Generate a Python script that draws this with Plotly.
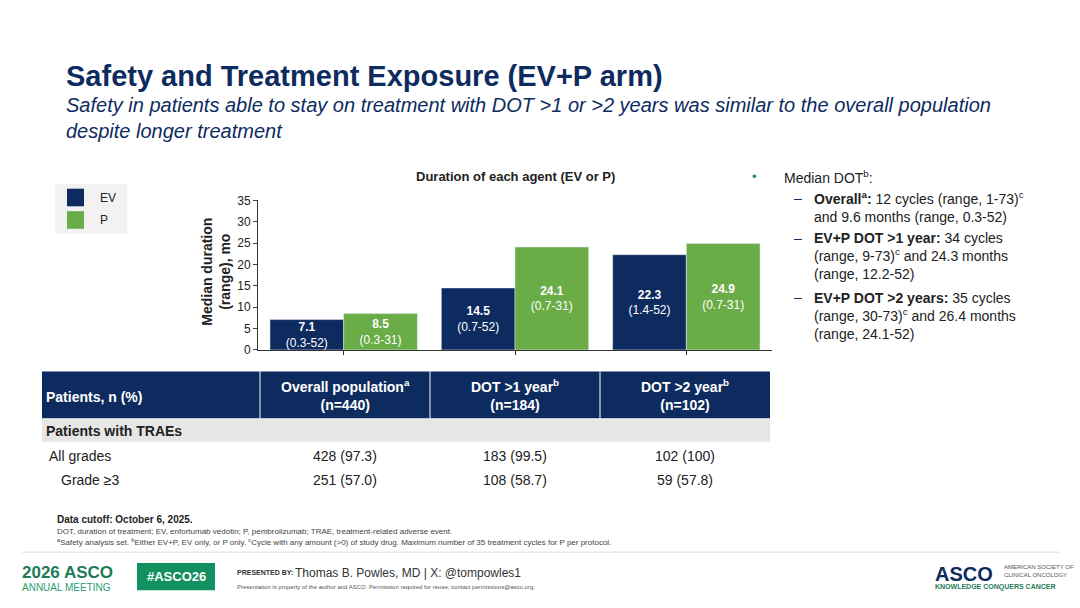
import plotly.graph_objects as go

# chart data
groups = ["Overall", "DOT >1 year", "DOT >2 years"]
ev_vals = [7.1, 14.5, 22.3]
ev_range = ["0.3-52", "0.7-52", "1.4-52"]
p_vals = [8.5, 24.1, 24.9]
p_range = ["0.3-31", "0.7-31", "0.7-31"]

# table data
col_heads = ["Patients, n (%)", "Overall population<sup>a</sup><br>(n=440)",
             "DOT >1 year<sup>b</sup><br>(n=184)", "DOT >2 year<sup>b</sup><br>(n=102)"]
row_labels = ["All grades", "Grade ≥3"]
row_vals = [["428 (97.3)", "183 (99.5)", "102 (100)"],
            ["251 (57.0)", "108 (58.7)", "59 (57.8)"]]

NAVY = "#0d2b5e"
GREEN = "#6aac46"
W, H = 1080, 608
FONT = "Liberation Sans, Arial"

def px(x):
    return x / W

def py(y):
    return 1 - y / H

fig = go.Figure()
fig.add_trace(go.Bar(x=groups, y=ev_vals, marker_color=NAVY, name="EV",
                     text=[f"<b>{v}</b><br>({r})" for v, r in zip(ev_vals, ev_range)],
                     textposition="inside", insidetextanchor="middle",
                     textfont=dict(color="white", size=12), showlegend=False))
fig.add_trace(go.Bar(x=groups, y=p_vals, marker_color=GREEN, name="P",
                     text=[f"<b>{v}</b><br>({r})" for v, r in zip(p_vals, p_range)],
                     textposition="inside", insidetextanchor="middle",
                     textfont=dict(color="white", size=12), showlegend=False))

fig.update_layout(
    width=W, height=H, margin=dict(l=0, r=0, t=0, b=0),
    paper_bgcolor="white", plot_bgcolor="white",
    font=dict(family=FONT, color="#222"),
    barmode="group", bargap=0.14, bargroupgap=0,
    uniformtext=dict(mode="show", minsize=12),
    xaxis=dict(domain=[px(258), px(772)], showticklabels=False, showline=True,
               linecolor="#333", ticks="outside", tickcolor="#333", ticklen=4),
    yaxis=dict(domain=[py(351), py(198)], range=[0, 35], dtick=5, showgrid=False,
               showline=True, linecolor="#333", ticks="outside", ticklen=4,
               tickfont=dict(size=12)),
)

shapes = []
ann = []

def text(x, y, s, size=13, color="#222", xanchor="left", bold=False, italic=False, yanchor="middle"):
    if bold:
        s = f"<b>{s}</b>"
    if italic:
        s = f"<i>{s}</i>"
    ann.append(dict(x=px(x), y=py(y + 3), xref="paper", yref="paper", text=s, showarrow=False,
                    xanchor=xanchor, yanchor=yanchor, align=xanchor if xanchor != "center" else "center",
                    font=dict(size=size, color=color, family=FONT)))

def rect(x0, x1, y0, y1, color):
    shapes.append(dict(type="rect", xref="paper", yref="paper", x0=px(x0), x1=px(x1),
                       y0=py(y1 + 3), y1=py(y0 + 3), fillcolor=color, line_width=0))

# title
text(64, 68, "Safety and Treatment Exposure (EV+P arm)", size=29, color=NAVY, bold=True)
text(64, 111, "Safety in patients able to stay on treatment with DOT >1 or >2 years was similar to the overall population<br>despite longer treatment",
     size=20, color=NAVY, italic=True)

# chart title and y title
text(515, 171, "Duration of each agent (EV or P)", size=13, xanchor="center", bold=True)
ann.append(dict(x=px(197), y=py(271), xref="paper", yref="paper", showarrow=False, textangle=-90,
                text="<b>Median duration<br>(range), mo</b>", font=dict(size=14, color="#222", family=FONT)))

# legend box
rect(55, 127, 178, 229, "#f2f2f2")
for yy, col, lab in [(192, NAVY, "EV"), (215, GREEN, "P")]:
    rect(67, 84, yy - 9, yy + 9, col)
    text(98, yy, lab, size=12)

# right-side bullets
text(750, 171, "•", size=13, color="#2e8b57")
text(782, 171, "Median DOT<sup>b</sup>:", size=14)
bullets = [
    (202, "<b>Overall<sup>a</sup>:</b> 12 cycles (range, 1-73)<sup>c</sup><br>and 9.6 months (range, 0.3-52)"),
    (252, "<b>EV+P DOT >1 year:</b> 34 cycles<br>(range, 9-73)<sup>c</sup> and 24.3 months<br>(range, 12.2-52)"),
    (313, "<b>EV+P DOT >2 years:</b> 35 cycles<br>(range, 30-73)<sup>c</sup> and 26.4 months<br>(range, 24.1-52)"),
]
for yy, s in bullets:
    first = yy - (20 if s.count("<br>") == 1 else 29)
    text(792, first + 10, "–", size=14, color=NAVY)
    text(812, yy, s, size=14)

# table
cols = [42, 260, 430, 600, 770]
rect(42, 770, 370, 418, NAVY)
for c in cols[1:-1]:
    shapes.append(dict(type="line", xref="paper", yref="paper", x0=px(c), x1=px(c), y0=py(421), y1=py(373),
                       line=dict(color="white", width=1)))
rect(42, 770, 419, 442, "#e6e6e6")
text(44, 396, col_heads[0], size=14, color="white", bold=True)
for i, h in enumerate(col_heads[1:]):
    text((cols[i + 1] + cols[i + 2]) / 2, 394, h, size=14, color="white", xanchor="center", bold=True)
text(44, 431, "Patients with TRAEs", size=14, bold=True)
for r, (lab, vals) in enumerate(zip(row_labels, row_vals)):
    yy = 457 + r * 24
    text(47 if r == 0 else 59, yy, lab, size=14)
    for i, v in enumerate(vals):
        text((cols[i + 1] + cols[i + 2]) / 2, yy, v, size=14, xanchor="center")

# footnotes
text(55, 522, "Data cutoff: October 6, 2025.", size=10, bold=True)
text(55, 534, "DOT, duration of treatment; EV, enfortumab vedotin; P, pembrolizumab; TRAE, treatment-related adverse event.", size=8, color="#444")
text(55, 545, "<sup>a</sup>Safety analysis set. <sup>b</sup>Either EV+P, EV only, or P only. <sup>c</sup>Cycle with any amount (>0) of study drug. Maximum number of 35 treatment cycles for P per protocol.", size=8, color="#444")
shapes.append(dict(type="line", xref="paper", yref="paper", x0=px(22), x1=px(1060), y0=py(558), y1=py(558),
                   line=dict(color="#dddddd", width=1)))

# footer
text(20, 576, "<b>2026 ASCO</b>", size=17, color="#1f7a5a")
text(20, 591, "ANNUAL MEETING", size=10, color="#2a9d6f")
rect(137, 215, 566, 594, "#13905f")
text(176, 580, "#ASCO26", size=13, color="white", xanchor="center", bold=True)
text(235, 576, "<b>PRESENTED BY:</b>", size=7, color="#333")
text(293, 576, "Thomas B. Powles, MD | X: @tompowles1", size=12, color="#333")
text(235, 591, "Presentation is property of the author and ASCO. Permission required for reuse; contact permissions@asco.org.", size=6, color="#555")
text(933, 577, "<b>ASCO</b>", size=20, color=NAVY)
text(1002, 574, "AMERICAN SOCIETY OF<br>CLINICAL ONCOLOGY", size=6, color="#555")
text(933, 591, "KNOWLEDGE CONQUERS CANCER", size=7, color="#1f7a5a", bold=True)

fig.update_layout(shapes=shapes, annotations=ann)
fig.write_html("out.html", config={"displayModeBar": False},
               post_script="document.body.style.margin='0';")
